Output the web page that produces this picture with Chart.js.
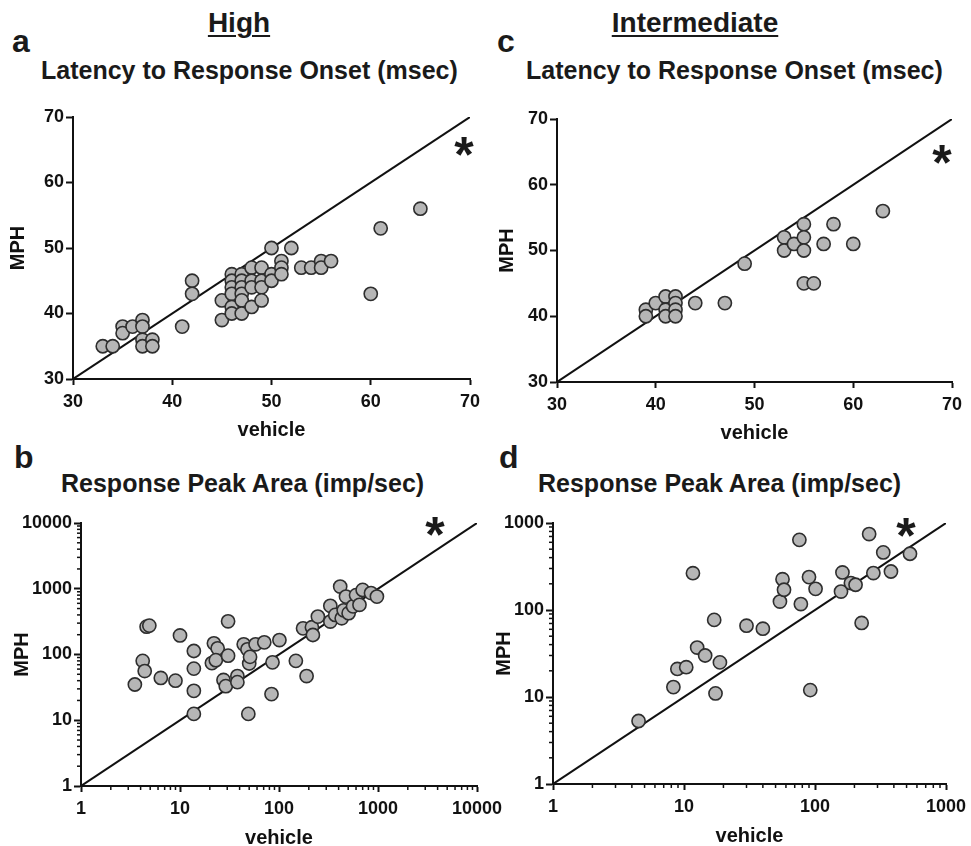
<!DOCTYPE html>
<html>
<head>
<meta charset="utf-8">
<script src="https://cdn.jsdelivr.net/npm/chart.js@4.4.1/dist/chart.umd.min.js"></script>
<style>
  html, body { margin: 0; padding: 0; overflow: hidden; background: #fff; }
  body { width: 971px; height: 846px; position: relative; font-family: 'Liberation Sans', Arial, Helvetica, sans-serif; font-weight: bold; color: #1a1a1a; }
  .txt { position: absolute; white-space: nowrap; line-height: 1; }
  .hdr { font-size: 28px; width: 200px; text-align: center; text-decoration: underline; text-decoration-thickness: 2px; text-underline-offset: 3px; }
  .letter { font-size: 32px; }
  .ptitle { font-size: 25px; }
  .star { font-size: 50px; width: 40px; text-align: center; }
  canvas { position: absolute; }
</style>
</head>
<body>
<div class="txt hdr" style="left:139px; top:9px;">High</div>
<div class="txt hdr" style="left:595px; top:9px;">Intermediate</div>

<div class="txt letter" style="left:12px; top:25px;">a</div>
<div class="txt letter" style="left:497px; top:25px;">c</div>
<div class="txt letter" style="left:14px; top:441px;">b</div>
<div class="txt letter" style="left:499px; top:441px;">d</div>

<div class="txt ptitle" style="left:41px; top:58px;">Latency to Response Onset (msec)</div>
<div class="txt ptitle" style="left:526px; top:58px;">Latency to Response Onset (msec)</div>
<div class="txt ptitle" style="left:61px; top:471px;">Response Peak Area (imp/sec)</div>
<div class="txt ptitle" style="left:538px; top:471px;">Response Peak Area (imp/sec)</div>

<canvas id="chartA" width="484" height="342" style="left:6px; top:100px;"></canvas>
<canvas id="chartC" width="476" height="345" style="left:495px; top:100px;"></canvas>
<canvas id="chartB" width="500" height="360" style="left:10px; top:490px;"></canvas>
<canvas id="chartD" width="479" height="358" style="left:492px; top:490px;"></canvas>

<div class="txt star" style="left:444px; top:130px;">*</div>
<div class="txt star" style="left:922px; top:138px;">*</div>
<div class="txt star" style="left:415px; top:510px;">*</div>
<div class="txt star" style="left:886px; top:511px;">*</div>

<script>
// a: High, latency (msec)
const highLatVehicle = [33, 34, 35, 35, 36, 37, 37, 37, 37, 38, 38, 41, 42, 42, 45, 45, 46, 46, 46, 46, 46, 46, 47, 47, 47, 47, 47, 47, 48, 48, 48, 48, 49, 49, 49, 49, 50, 50, 50, 51, 51, 51, 52, 53, 54, 55, 55, 56, 60, 61, 65];
const highLatMph     = [35, 35, 38, 37, 38, 39, 38, 36, 35, 36, 35, 38, 45, 43, 39, 42, 46, 45, 44, 43, 41, 40, 46, 45, 44, 43, 42, 40, 47, 45, 44, 41, 47, 45, 44, 42, 50, 46, 45, 48, 47, 46, 50, 47, 47, 48, 47, 48, 43, 53, 56];

// c: Intermediate, latency (msec)
const intLatVehicle = [39, 39, 40, 41, 41, 41, 42, 42, 42, 42, 44, 47, 49, 53, 53, 54, 55, 55, 55, 55, 56, 57, 58, 60, 63];
const intLatMph     = [41, 40, 42, 43, 41, 40, 43, 42, 41, 40, 42, 42, 48, 52, 50, 51, 54, 52, 50, 45, 45, 51, 54, 51, 56];

// b: High, peak area (imp/sec)
const highAreaVehicle = [3.5, 4.2, 4.4, 4.6, 4.9, 6.4, 9, 10, 13.8, 13.8, 13.8, 13.8, 21, 22, 24, 23, 27.5, 29, 30.6, 30.6, 38, 38, 44, 48, 49, 50, 51, 58, 71, 84, 86, 101, 148, 175, 190, 215, 220, 247, 330, 330, 370, 415, 430, 450, 475, 505, 560, 600, 650, 700, 850, 975];
const highAreaMph     = [35, 80, 56, 265, 275, 44, 40, 195, 113, 61, 28, 12.5, 74, 148, 124, 82, 41, 33, 320, 96, 47, 38, 143, 120, 12.5, 73, 92, 143, 153, 25, 76, 166, 80, 250, 47, 260, 198, 377, 550, 317, 400, 1080, 355, 470, 760, 425, 540, 800, 570, 960, 860, 760];

// d: Intermediate, peak area (imp/sec)
const intAreaVehicle = [4.5, 8.3, 8.9, 10.4, 11.7, 12.6, 14.5, 17, 17.4, 18.8, 30, 40, 54, 56.5, 58, 76, 78, 90, 92, 101, 158, 162, 188, 204, 227, 259, 279, 332, 380, 531];
const intAreaMph     = [5.3, 13, 21, 22, 265, 37, 30, 77, 11, 25, 66, 61, 125, 226, 171, 640, 117, 239, 12, 175, 163, 270, 204, 195, 71, 746, 266, 459, 277, 443];

// axis ticks and unity lines
const latTicks = [30, 40, 50, 60, 70];
const decadesB = [1, 10, 100, 1000, 10000];
const decadesD = [1, 10, 100, 1000];

const FONT = "'Liberation Sans', Arial, Helvetica, sans-serif";
const INK = '#111';

function isDecade(v) {
  const l = Math.log10(v);
  return Math.abs(l - Math.round(l)) < 1e-9;
}

function withMinors(decades) {
  const out = [];
  decades.forEach((d, i) => {
    out.push(d);
    if (i < decades.length - 1) for (let k = 2; k < 10; k++) out.push(d * k);
  });
  return out;
}

// short minor ticks on the log axes
const minorTicks = {
  id: 'minorTicks',
  afterDraw(chart) {
    const ctx = chart.ctx;
    Object.values(chart.scales).forEach(s => {
      if (s.type !== 'logarithmic') return;
      ctx.save();
      ctx.strokeStyle = INK;
      ctx.lineWidth = 1.5;
      s.ticks.forEach(t => {
        if (isDecade(t.value)) return;
        const p = s.getPixelForValue(t.value);
        ctx.beginPath();
        if (s.isHorizontal()) { ctx.moveTo(p, s.top); ctx.lineTo(p, s.top + 4); }
        else { ctx.moveTo(s.right, p); ctx.lineTo(s.right - 4, p); }
        ctx.stroke();
      });
      ctx.restore();
    });
  }
};

function axis(pos, type, min, max, ticks, title, size) {
  const isLog = type === 'logarithmic';
  return {
    type: type,
    position: pos,
    min: min,
    max: max,
    afterBuildTicks: s => { s.ticks = ticks.map(v => ({ value: v })); },
    afterFit: s => {
      if (pos === 'left') s.width = size; else s.height = size;
      s.paddingLeft = 0; s.paddingRight = 0; s.paddingTop = 0; s.paddingBottom = 0;
    },
    border: { display: true, color: INK, width: 2 },
    grid: {
      drawOnChartArea: false,
      drawTicks: true,
      tickLength: pos === 'left' ? 7 : 6,
      tickWidth: 2,
      tickColor: c => (!isLog || (c.tick && isDecade(c.tick.value))) ? INK : 'rgba(0,0,0,0)'
    },
    ticks: {
      autoSkip: false,
      maxRotation: 0,
      padding: pos === 'left' ? 2 : 6,
      color: INK,
      font: { family: FONT, size: 18, weight: 'bold' },
      callback: v => isLog ? (isDecade(v) ? String(v) : '') : String(v)
    },
    title: { display: true, text: title, color: INK, font: { family: FONT, size: 20, weight: 'bold' }, padding: 0 }
  };
}

function panel(id, xs, ys, type, range, ticks, yWidth, xHeight, pad) {
  const unity = [range[0], range[1]];
  new Chart(document.getElementById(id), {
    type: 'scatter',
    data: {
      datasets: [{
        data: xs.map((x, i) => ({ x: x, y: ys[i] })),
        pointRadius: 6.6,
        pointHoverRadius: 6.6,
        borderWidth: 1.6,
        backgroundColor: '#b6b6b6',
        borderColor: '#2e2e2e'
      }, {
        data: unity.map(v => ({ x: v, y: v })),
        showLine: true,
        pointRadius: 0,
        borderColor: INK,
        borderWidth: 2
      }]
    },
    options: {
      responsive: false,
      animation: false,
      layout: { padding: { left: 0, top: pad[0], right: pad[1], bottom: 0 } },
      plugins: { legend: { display: false }, tooltip: { enabled: false } },
      scales: {
        x: axis('bottom', type, range[0], range[1], ticks, 'vehicle', xHeight),
        y: axis('left', type, range[0], range[1], ticks, 'MPH', yWidth)
      }
    },
    plugins: [minorTicks]
  });
}

panel('chartA', highLatVehicle, highLatMph, 'linear', [30, 70], latTicks, 67, 63, [17, 20]);
panel('chartC', intLatVehicle, intLatMph, 'linear', [30, 70], latTicks, 62, 63, [19, 19]);
panel('chartB', highAreaVehicle, highAreaMph, 'logarithmic', [1, 10000], withMinors(decadesB), 71, 64, [33, 33]);
panel('chartD', intAreaVehicle, intAreaMph, 'logarithmic', [1, 1000], withMinors(decadesD), 61, 64, [33, 25]);
</script>
</body>
</html>
